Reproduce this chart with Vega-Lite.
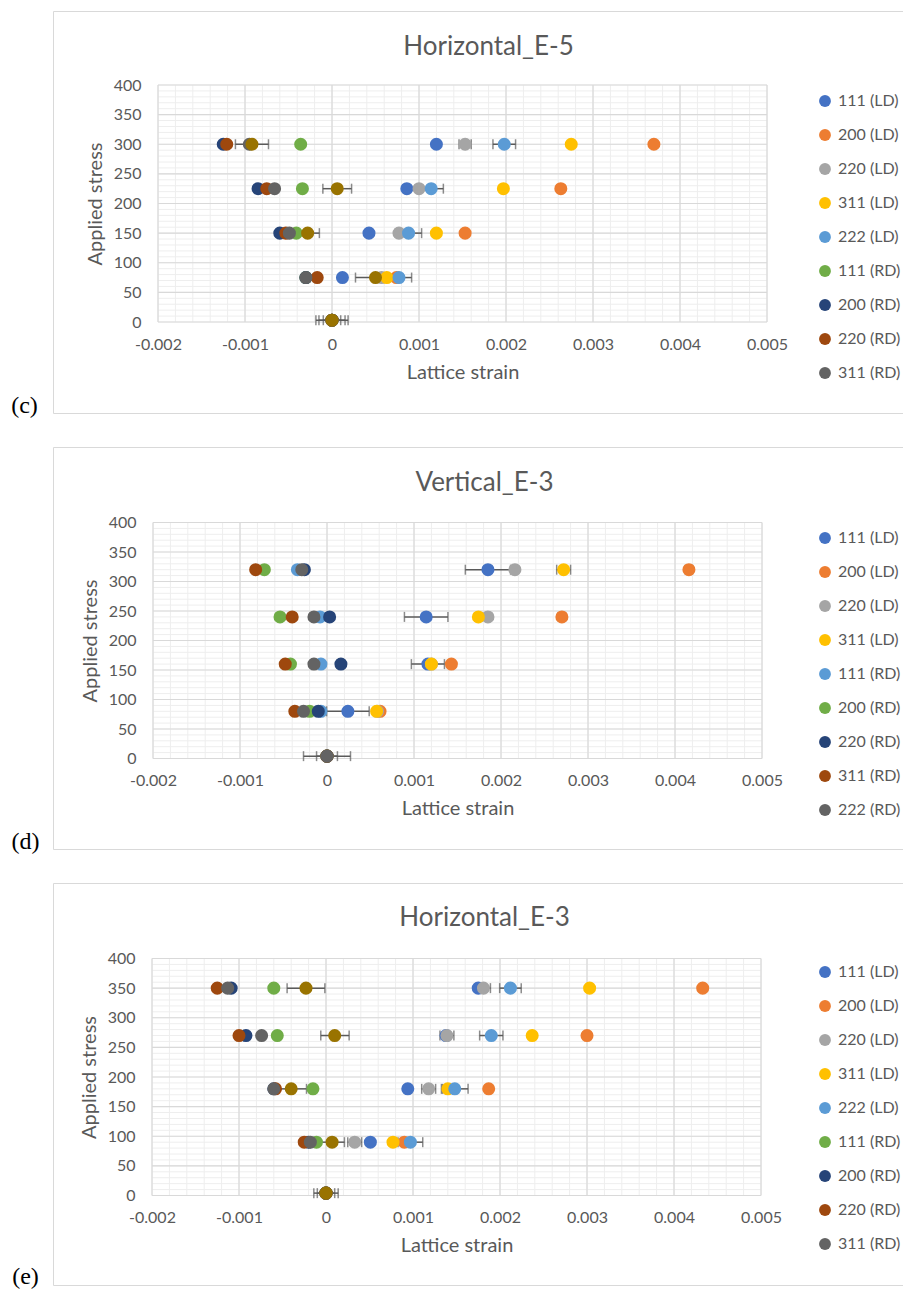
{
"$schema": "https://vega.github.io/schema/vega-lite/v6.json",
"padding": {"left": 10, "top": 10, "right": 0, "bottom": 0},
"background": "white",
"bounds": "flush",
"spacing": 34,
"config": {
  "font": "Lato",
  "view": {"stroke": "#D9D9D9", "strokeWidth": 1},
  "axis": {"labelFont": "Lato", "titleFont": "Lato", "labelColor": "#595959", "titleColor": "#595959", "titleFontWeight": "normal"},
  "legend": {"labelFont": "Lato"}
},
"resolve": {"scale": {"x": "independent", "y": "independent", "color": "independent"}},
"datasets": {
  "vminor": [{"v": -0.002},{"v": -0.0018},{"v": -0.0016},{"v": -0.0014},{"v": -0.0012},{"v": -0.001},{"v": -0.0008},{"v": -0.0006},{"v": -0.0004},{"v": -0.0002},{"v": 0},{"v": 0.0002},{"v": 0.0004},{"v": 0.0006},{"v": 0.0008},{"v": 0.001},{"v": 0.0012},{"v": 0.0014},{"v": 0.0016},{"v": 0.0018},{"v": 0.002},{"v": 0.0022},{"v": 0.0024},{"v": 0.0026},{"v": 0.0028},{"v": 0.003},{"v": 0.0032},{"v": 0.0034},{"v": 0.0036},{"v": 0.0038},{"v": 0.004},{"v": 0.0042},{"v": 0.0044},{"v": 0.0046},{"v": 0.0048},{"v": 0.005}],
  "vmajor": [{"v": -0.002},{"v": -0.001},{"v": 0},{"v": 0.001},{"v": 0.002},{"v": 0.003},{"v": 0.004},{"v": 0.005}],
  "hminor": [{"h": 0},{"h": 10},{"h": 20},{"h": 30},{"h": 40},{"h": 50},{"h": 60},{"h": 70},{"h": 80},{"h": 90},{"h": 100},{"h": 110},{"h": 120},{"h": 130},{"h": 140},{"h": 150},{"h": 160},{"h": 170},{"h": 180},{"h": 190},{"h": 200},{"h": 210},{"h": 220},{"h": 230},{"h": 240},{"h": 250},{"h": 260},{"h": 270},{"h": 280},{"h": 290},{"h": 300},{"h": 310},{"h": 320},{"h": 330},{"h": 340},{"h": 350},{"h": 360},{"h": 370},{"h": 380},{"h": 390},{"h": 400}],
  "hmajor": [{"h": 0},{"h": 50},{"h": 100},{"h": 150},{"h": 200},{"h": 250},{"h": 300},{"h": 350},{"h": 400}],
  "p1": [
    {"series": "111 (LD)", "stress": 3, "strain": 0},{"series": "111 (LD)", "stress": 75, "strain": 0.00012},{"series": "111 (LD)", "stress": 150, "strain": 0.000425},{"series": "111 (LD)", "stress": 225, "strain": 0.00086},{"series": "111 (LD)", "stress": 300, "strain": 0.0012},
    {"series": "200 (LD)", "stress": 3, "strain": 0},{"series": "200 (LD)", "stress": 75, "strain": 0.00074},{"series": "200 (LD)", "stress": 150, "strain": 0.00153},{"series": "200 (LD)", "stress": 225, "strain": 0.00263},{"series": "200 (LD)", "stress": 300, "strain": 0.0037},
    {"series": "220 (LD)", "stress": 3, "strain": 0},{"series": "220 (LD)", "stress": 75, "strain": 0.00057},{"series": "220 (LD)", "stress": 150, "strain": 0.00077},{"series": "220 (LD)", "stress": 225, "strain": 0.001},{"series": "220 (LD)", "stress": 300, "strain": 0.00153},
    {"series": "311 (LD)", "stress": 3, "strain": 0},{"series": "311 (LD)", "stress": 75, "strain": 0.00063},{"series": "311 (LD)", "stress": 150, "strain": 0.0012},{"series": "311 (LD)", "stress": 225, "strain": 0.00197},{"series": "311 (LD)", "stress": 300, "strain": 0.00275},
    {"series": "222 (LD)", "stress": 3, "strain": 0},{"series": "222 (LD)", "stress": 75, "strain": 0.00077},{"series": "222 (LD)", "stress": 150, "strain": 0.00088},{"series": "222 (LD)", "stress": 225, "strain": 0.00114},{"series": "222 (LD)", "stress": 300, "strain": 0.00198},
    {"series": "111 (RD)", "stress": 3, "strain": 0},{"series": "111 (RD)", "stress": 75, "strain": -0.0003},{"series": "111 (RD)", "stress": 150, "strain": -0.00041},{"series": "111 (RD)", "stress": 225, "strain": -0.00034},{"series": "111 (RD)", "stress": 300, "strain": -0.00036},
    {"series": "200 (RD)", "stress": 3, "strain": 0},{"series": "200 (RD)", "stress": 75, "strain": -0.0003},{"series": "200 (RD)", "stress": 150, "strain": -0.0006},{"series": "200 (RD)", "stress": 225, "strain": -0.00085},{"series": "200 (RD)", "stress": 300, "strain": -0.00125},
    {"series": "220 (RD)", "stress": 3, "strain": 0},{"series": "220 (RD)", "stress": 75, "strain": -0.00017},{"series": "220 (RD)", "stress": 150, "strain": -0.00053},{"series": "220 (RD)", "stress": 225, "strain": -0.00075},{"series": "220 (RD)", "stress": 300, "strain": -0.00121},
    {"series": "311 (RD)", "stress": 3, "strain": 0},{"series": "311 (RD)", "stress": 75, "strain": -0.0003},{"series": "311 (RD)", "stress": 150, "strain": -0.00049},{"series": "311 (RD)", "stress": 225, "strain": -0.00066},{"series": "311 (RD)", "stress": 300, "strain": -0.00095},
    {"series": "222 (RD)", "stress": 3, "strain": 0},{"series": "222 (RD)", "stress": 75, "strain": 0.0005},{"series": "222 (RD)", "stress": 150, "strain": -0.00028},{"series": "222 (RD)", "stress": 225, "strain": 0.00006},{"series": "222 (RD)", "stress": 300, "strain": -0.00092}
  ],
  "e1": [
    {"series": "220 (LD)", "stress": 3, "lo": -0.0001, "hi": 0.0001},{"series": "220 (LD)", "stress": 300, "lo": 0.00146, "hi": 0.0016},
    {"series": "222 (LD)", "stress": 3, "lo": -0.00015, "hi": 0.00015},{"series": "222 (LD)", "stress": 75, "lo": 0.000625, "hi": 0.000915},{"series": "222 (LD)", "stress": 150, "lo": 0.00073, "hi": 0.00103},{"series": "222 (LD)", "stress": 225, "lo": 0.001, "hi": 0.00128},{"series": "222 (LD)", "stress": 300, "lo": 0.00185, "hi": 0.00211},
    {"series": "222 (RD)", "stress": 3, "lo": -0.000185, "hi": 0.000185},{"series": "222 (RD)", "stress": 75, "lo": 0.00027, "hi": 0.00073},{"series": "222 (RD)", "stress": 150, "lo": -0.000415, "hi": -0.000145},{"series": "222 (RD)", "stress": 225, "lo": -0.000105, "hi": 0.000225},{"series": "222 (RD)", "stress": 300, "lo": -0.00111, "hi": -0.00073}
  ],
  "p2": [
    {"series": "111 (LD)", "stress": 4, "strain": 0},{"series": "111 (LD)", "stress": 80, "strain": 0.00024},{"series": "111 (LD)", "stress": 160, "strain": 0.00116},{"series": "111 (LD)", "stress": 240, "strain": 0.00114},{"series": "111 (LD)", "stress": 320, "strain": 0.00185},
    {"series": "200 (LD)", "stress": 4, "strain": 0},{"series": "200 (LD)", "stress": 80, "strain": 0.00061},{"series": "200 (LD)", "stress": 160, "strain": 0.00143},{"series": "200 (LD)", "stress": 240, "strain": 0.0027},{"series": "200 (LD)", "stress": 320, "strain": 0.00416},
    {"series": "220 (LD)", "stress": 4, "strain": 0},{"series": "220 (LD)", "stress": 80, "strain": 0.00058},{"series": "220 (LD)", "stress": 160, "strain": 0.0012},{"series": "220 (LD)", "stress": 240, "strain": 0.00185},{"series": "220 (LD)", "stress": 320, "strain": 0.00216},
    {"series": "311 (LD)", "stress": 4, "strain": 0},{"series": "311 (LD)", "stress": 80, "strain": 0.00057},{"series": "311 (LD)", "stress": 160, "strain": 0.0012},{"series": "311 (LD)", "stress": 240, "strain": 0.00174},{"series": "311 (LD)", "stress": 320, "strain": 0.00272},
    {"series": "111 (RD)", "stress": 4, "strain": 0},{"series": "111 (RD)", "stress": 80, "strain": -0.00007},{"series": "111 (RD)", "stress": 160, "strain": -0.00007},{"series": "111 (RD)", "stress": 240, "strain": -0.00008},{"series": "111 (RD)", "stress": 320, "strain": -0.00034},
    {"series": "200 (RD)", "stress": 4, "strain": 0},{"series": "200 (RD)", "stress": 80, "strain": -0.0002},{"series": "200 (RD)", "stress": 160, "strain": -0.00042},{"series": "200 (RD)", "stress": 240, "strain": -0.00054},{"series": "200 (RD)", "stress": 320, "strain": -0.00072},
    {"series": "220 (RD)", "stress": 4, "strain": 0},{"series": "220 (RD)", "stress": 80, "strain": -0.0001},{"series": "220 (RD)", "stress": 160, "strain": 0.00016},{"series": "220 (RD)", "stress": 240, "strain": 0.00003},{"series": "220 (RD)", "stress": 320, "strain": -0.00026},
    {"series": "311 (RD)", "stress": 4, "strain": 0},{"series": "311 (RD)", "stress": 80, "strain": -0.00037},{"series": "311 (RD)", "stress": 160, "strain": -0.00048},{"series": "311 (RD)", "stress": 240, "strain": -0.0004},{"series": "311 (RD)", "stress": 320, "strain": -0.00082},
    {"series": "222 (RD)", "stress": 4, "strain": 0},{"series": "222 (RD)", "stress": 80, "strain": -0.00027},{"series": "222 (RD)", "stress": 160, "strain": -0.00015},{"series": "222 (RD)", "stress": 240, "strain": -0.00015},{"series": "222 (RD)", "stress": 320, "strain": -0.00029}
  ],
  "e2": [
    {"series": "111 (LD)", "stress": 4, "lo": -0.00027, "hi": 0.00027},{"series": "111 (LD)", "stress": 80, "lo": -0.000005, "hi": 0.000485},{"series": "111 (LD)", "stress": 160, "lo": 0.00097, "hi": 0.00135},{"series": "111 (LD)", "stress": 240, "lo": 0.00089, "hi": 0.00139},{"series": "111 (LD)", "stress": 320, "lo": 0.00159, "hi": 0.00211},
    {"series": "200 (LD)", "stress": 80, "lo": 0.00058, "hi": 0.00064},{"series": "200 (LD)", "stress": 160, "lo": 0.0014, "hi": 0.00146},{"series": "200 (LD)", "stress": 240, "lo": 0.00266, "hi": 0.00274},{"series": "200 (LD)", "stress": 320, "lo": 0.00412, "hi": 0.0042},
    {"series": "311 (LD)", "stress": 160, "lo": 0.00116, "hi": 0.00124},{"series": "311 (LD)", "stress": 240, "lo": 0.0017, "hi": 0.00178},{"series": "311 (LD)", "stress": 320, "lo": 0.00264, "hi": 0.0028},
    {"series": "220 (RD)", "stress": 80, "lo": -0.00014, "hi": -0.00006},{"series": "220 (RD)", "stress": 160, "lo": 0.00012, "hi": 0.0002},{"series": "220 (RD)", "stress": 240, "lo": -0.00001, "hi": 0.00007},{"series": "220 (RD)", "stress": 320, "lo": -0.0003, "hi": -0.00022},
    {"series": "222 (RD)", "stress": 4, "lo": -0.00012, "hi": 0.00012}
  ],
  "p3": [
    {"series": "111 (LD)", "stress": 4, "strain": 0},{"series": "111 (LD)", "stress": 90, "strain": 0.00051},{"series": "111 (LD)", "stress": 180, "strain": 0.00094},{"series": "111 (LD)", "stress": 270, "strain": 0.00138},{"series": "111 (LD)", "stress": 350, "strain": 0.00175},
    {"series": "200 (LD)", "stress": 4, "strain": 0},{"series": "200 (LD)", "stress": 90, "strain": 0.0009},{"series": "200 (LD)", "stress": 180, "strain": 0.00187},{"series": "200 (LD)", "stress": 270, "strain": 0.003},{"series": "200 (LD)", "stress": 350, "strain": 0.00433},
    {"series": "220 (LD)", "stress": 4, "strain": 0},{"series": "220 (LD)", "stress": 90, "strain": 0.00033},{"series": "220 (LD)", "stress": 180, "strain": 0.00118},{"series": "220 (LD)", "stress": 270, "strain": 0.00139},{"series": "220 (LD)", "stress": 350, "strain": 0.00181},
    {"series": "311 (LD)", "stress": 4, "strain": 0},{"series": "311 (LD)", "stress": 90, "strain": 0.00077},{"series": "311 (LD)", "stress": 180, "strain": 0.0014},{"series": "311 (LD)", "stress": 270, "strain": 0.00237},{"series": "311 (LD)", "stress": 350, "strain": 0.00303},
    {"series": "222 (LD)", "stress": 4, "strain": 0},{"series": "222 (LD)", "stress": 90, "strain": 0.00097},{"series": "222 (LD)", "stress": 180, "strain": 0.00148},{"series": "222 (LD)", "stress": 270, "strain": 0.0019},{"series": "222 (LD)", "stress": 350, "strain": 0.00212},
    {"series": "111 (RD)", "stress": 4, "strain": 0},{"series": "111 (RD)", "stress": 90, "strain": -0.00011},{"series": "111 (RD)", "stress": 180, "strain": -0.00015},{"series": "111 (RD)", "stress": 270, "strain": -0.00056},{"series": "111 (RD)", "stress": 350, "strain": -0.0006},
    {"series": "200 (RD)", "stress": 4, "strain": 0},{"series": "200 (RD)", "stress": 90, "strain": -0.0002},{"series": "200 (RD)", "stress": 180, "strain": -0.0006},{"series": "200 (RD)", "stress": 270, "strain": -0.00092},{"series": "200 (RD)", "stress": 350, "strain": -0.00109},
    {"series": "220 (RD)", "stress": 4, "strain": 0},{"series": "220 (RD)", "stress": 90, "strain": -0.00025},{"series": "220 (RD)", "stress": 180, "strain": -0.00058},{"series": "220 (RD)", "stress": 270, "strain": -0.001},{"series": "220 (RD)", "stress": 350, "strain": -0.00125},
    {"series": "311 (RD)", "stress": 4, "strain": 0},{"series": "311 (RD)", "stress": 90, "strain": -0.00018},{"series": "311 (RD)", "stress": 180, "strain": -0.0006},{"series": "311 (RD)", "stress": 270, "strain": -0.00074},{"series": "311 (RD)", "stress": 350, "strain": -0.00113},
    {"series": "222 (RD)", "stress": 4, "strain": 0},{"series": "222 (RD)", "stress": 90, "strain": 0.00007},{"series": "222 (RD)", "stress": 180, "strain": -0.0004},{"series": "222 (RD)", "stress": 270, "strain": 0.0001},{"series": "222 (RD)", "stress": 350, "strain": -0.00023}
  ],
  "e3": [
    {"series": "220 (LD)", "stress": 90, "lo": 0.00025, "hi": 0.00041},{"series": "220 (LD)", "stress": 180, "lo": 0.0011, "hi": 0.00126},{"series": "220 (LD)", "stress": 270, "lo": 0.00131, "hi": 0.00147},{"series": "220 (LD)", "stress": 350, "lo": 0.00173, "hi": 0.00189},
    {"series": "311 (LD)", "stress": 180, "lo": 0.00134, "hi": 0.00146},
    {"series": "222 (LD)", "stress": 4, "lo": -0.0001, "hi": 0.0001},{"series": "222 (LD)", "stress": 90, "lo": 0.000828, "hi": 0.001112},{"series": "222 (LD)", "stress": 180, "lo": 0.001327, "hi": 0.001633},{"series": "222 (LD)", "stress": 270, "lo": 0.001766, "hi": 0.002034},{"series": "222 (LD)", "stress": 350, "lo": 0.001996, "hi": 0.002244},
    {"series": "222 (RD)", "stress": 4, "lo": -0.00014, "hi": 0.00014},{"series": "222 (RD)", "stress": 90, "lo": -0.000075, "hi": 0.000212},{"series": "222 (RD)", "stress": 180, "lo": -0.000576, "hi": -0.000224},{"series": "222 (RD)", "stress": 270, "lo": -0.00006, "hi": 0.000266},{"series": "222 (RD)", "stress": 350, "lo": -0.000447, "hi": -0.000013}
  ]
},
"vconcat": [
{
  "width": 850, "height": 402,
  "resolve": {"axis": {"x": "independent", "y": "independent"}},
  "layer": [
    {"data": {"name": "vminor"}, "mark": {"type": "rule", "color": "#EEEEEE", "strokeWidth": 1},
     "encoding": {
       "x": {"field": "v", "type": "quantitative", "scale": {"domain": [-0.002, 0.005], "range": [105, 714], "nice": false, "zero": false},
             "axis": {"orient": "top", "offset": 0, "labels": false, "ticks": false, "domain": false, "grid": false, "title": "Horizontal_E-5", "titleX": 435, "titleY": 35, "titleAlign": "center", "titleBaseline": "middle", "titleAngle": 0, "titleFontSize": 26, "titleColor": "#595959", "titleFontWeight": "normal"}},
       "y": {"datum": 0, "type": "quantitative", "scale": {"domain": [0, 400], "range": [311, 74], "nice": false, "zero": false}, "axis": null},
       "y2": {"datum": 400}}},
    {"data": {"name": "hminor"}, "mark": {"type": "rule", "color": "#EEEEEE", "strokeWidth": 1},
     "encoding": {
       "y": {"field": "h", "type": "quantitative", "scale": {"domain": [0, 400], "range": [311, 74], "nice": false, "zero": false},
             "axis": {"orient": "left", "offset": 0, "labels": false, "ticks": false, "domain": false, "grid": false, "title": "(c)", "titleX": -29, "titleY": 394, "titleAngle": 0, "titleAlign": "center", "titleBaseline": "middle", "titleFont": "Liberation Serif", "titleFontSize": 24, "titleColor": "#000000", "titleFontWeight": "normal"}},
       "x": {"datum": -0.002, "type": "quantitative", "scale": {"domain": [-0.002, 0.005], "range": [105, 714], "nice": false, "zero": false}, "axis": null},
       "x2": {"datum": 0.005}}},
    {"data": {"name": "vmajor"}, "mark": {"type": "rule", "color": "#D9D9D9", "strokeWidth": 1.2},
     "encoding": {
       "x": {"field": "v", "type": "quantitative", "scale": {"domain": [-0.002, 0.005], "range": [105, 714], "nice": false, "zero": false}, "axis": null},
       "y": {"datum": 0, "type": "quantitative", "scale": {"domain": [0, 400], "range": [311, 74], "nice": false, "zero": false}, "axis": null},
       "y2": {"datum": 400}}},
    {"data": {"name": "hmajor"}, "mark": {"type": "rule", "color": "#D9D9D9", "strokeWidth": 1.2},
     "encoding": {
       "y": {"field": "h", "type": "quantitative", "scale": {"domain": [0, 400], "range": [311, 74], "nice": false, "zero": false}, "axis": null},
       "x": {"datum": -0.002, "type": "quantitative", "scale": {"domain": [-0.002, 0.005], "range": [105, 714], "nice": false, "zero": false}, "axis": null},
       "x2": {"datum": 0.005}}},
    {"data": {"name": "e1"}, "mark": {"type": "errorbar", "color": "#5A5A5A", "thickness": 1.5, "ticks": {"size": 10, "thickness": 1.5, "color": "#5A5A5A"}},
     "encoding": {
       "x": {"field": "lo", "type": "quantitative", "scale": {"domain": [-0.002, 0.005], "range": [105, 714], "nice": false, "zero": false}, "axis": null},
       "x2": {"field": "hi"},
       "y": {"field": "stress", "type": "quantitative", "scale": {"domain": [0, 400], "range": [311, 74], "nice": false, "zero": false}, "axis": null}}},
    {"data": {"name": "p1"}, "mark": {"type": "point", "filled": true, "size": 170, "opacity": 1, "shape": "circle"},
     "encoding": {
       "x": {"field": "strain", "type": "quantitative", "scale": {"domain": [-0.002, 0.005], "range": [105, 714], "nice": false, "zero": false},
             "axis": {"orient": "bottom", "offset": -91, "values": [-0.002, -0.001, 0, 0.001, 0.002, 0.003, 0.004, 0.005], "labelExpr": "toString(datum.value)", "labelFlush": false, "labelOverlap": false, "labelPadding": 14, "labelFontSize": 16, "ticks": false, "domain": false, "grid": false, "title": "Lattice strain", "titleFontSize": 20, "titlePadding": 10}},
       "y": {"field": "stress", "type": "quantitative", "scale": {"domain": [0, 400], "range": [311, 74], "nice": false, "zero": false},
             "axis": {"orient": "left", "offset": -105, "values": [0, 50, 100, 150, 200, 250, 300, 350, 400], "labelPadding": 17, "labelFontSize": 16, "ticks": false, "domain": false, "grid": false, "title": "Applied stress", "titleFontSize": 20, "titlePadding": 8}},
       "color": {"field": "series", "type": "nominal",
             "scale": {"domain": ["111 (LD)","200 (LD)","220 (LD)","311 (LD)","222 (LD)","111 (RD)","200 (RD)","220 (RD)","311 (RD)","222 (RD)"], "range": ["#4472C4","#ED7D31","#A5A5A5","#FFC000","#5B9BD5","#70AD47","#264478","#9E480E","#636363","#997300"]},
             "legend": {"orient": "none", "legendX": 764, "legendY": 82, "title": null, "values": ["111 (LD)","200 (LD)","220 (LD)","311 (LD)","222 (LD)","111 (RD)","200 (RD)","220 (RD)","311 (RD)"], "symbolType": "circle", "symbolSize": 140, "symbolStrokeWidth": 0, "labelFontSize": 16, "labelColor": "#595959", "rowPadding": 18, "labelOffset": 5, "padding": 0}}}}
  ]
},
{
  "width": 850, "height": 402,
  "resolve": {"axis": {"x": "independent", "y": "independent"}},
  "layer": [
    {"data": {"name": "vminor"}, "mark": {"type": "rule", "color": "#EEEEEE", "strokeWidth": 1},
     "encoding": {
       "x": {"field": "v", "type": "quantitative", "scale": {"domain": [-0.002, 0.005], "range": [100, 709], "nice": false, "zero": false},
             "axis": {"orient": "top", "offset": 0, "labels": false, "ticks": false, "domain": false, "grid": false, "title": "Vertical_E-3", "titleX": 431, "titleY": 35, "titleAlign": "center", "titleBaseline": "middle", "titleAngle": 0, "titleFontSize": 26, "titleColor": "#595959", "titleFontWeight": "normal"}},
       "y": {"datum": 0, "type": "quantitative", "scale": {"domain": [0, 400], "range": [311.5, 75.5], "nice": false, "zero": false}, "axis": null},
       "y2": {"datum": 400}}},
    {"data": {"name": "hminor"}, "mark": {"type": "rule", "color": "#EEEEEE", "strokeWidth": 1},
     "encoding": {
       "y": {"field": "h", "type": "quantitative", "scale": {"domain": [0, 400], "range": [311.5, 75.5], "nice": false, "zero": false},
             "axis": {"orient": "left", "offset": 0, "labels": false, "ticks": false, "domain": false, "grid": false, "title": "(d)", "titleX": -28, "titleY": 394, "titleAngle": 0, "titleAlign": "center", "titleBaseline": "middle", "titleFont": "Liberation Serif", "titleFontSize": 24, "titleColor": "#000000", "titleFontWeight": "normal"}},
       "x": {"datum": -0.002, "type": "quantitative", "scale": {"domain": [-0.002, 0.005], "range": [100, 709], "nice": false, "zero": false}, "axis": null},
       "x2": {"datum": 0.005}}},
    {"data": {"name": "vmajor"}, "mark": {"type": "rule", "color": "#D9D9D9", "strokeWidth": 1.2},
     "encoding": {
       "x": {"field": "v", "type": "quantitative", "scale": {"domain": [-0.002, 0.005], "range": [100, 709], "nice": false, "zero": false}, "axis": null},
       "y": {"datum": 0, "type": "quantitative", "scale": {"domain": [0, 400], "range": [311.5, 75.5], "nice": false, "zero": false}, "axis": null},
       "y2": {"datum": 400}}},
    {"data": {"name": "hmajor"}, "mark": {"type": "rule", "color": "#D9D9D9", "strokeWidth": 1.2},
     "encoding": {
       "y": {"field": "h", "type": "quantitative", "scale": {"domain": [0, 400], "range": [311.5, 75.5], "nice": false, "zero": false}, "axis": null},
       "x": {"datum": -0.002, "type": "quantitative", "scale": {"domain": [-0.002, 0.005], "range": [100, 709], "nice": false, "zero": false}, "axis": null},
       "x2": {"datum": 0.005}}},
    {"data": {"name": "e2"}, "mark": {"type": "errorbar", "color": "#5A5A5A", "thickness": 1.5, "ticks": {"size": 10, "thickness": 1.5, "color": "#5A5A5A"}},
     "encoding": {
       "x": {"field": "lo", "type": "quantitative", "scale": {"domain": [-0.002, 0.005], "range": [100, 709], "nice": false, "zero": false}, "axis": null},
       "x2": {"field": "hi"},
       "y": {"field": "stress", "type": "quantitative", "scale": {"domain": [0, 400], "range": [311.5, 75.5], "nice": false, "zero": false}, "axis": null}}},
    {"data": {"name": "p2"}, "mark": {"type": "point", "filled": true, "size": 170, "opacity": 1, "shape": "circle"},
     "encoding": {
       "x": {"field": "strain", "type": "quantitative", "scale": {"domain": [-0.002, 0.005], "range": [100, 709], "nice": false, "zero": false},
             "axis": {"orient": "bottom", "offset": -90.5, "values": [-0.002, -0.001, 0, 0.001, 0.002, 0.003, 0.004, 0.005], "labelExpr": "toString(datum.value)", "labelFlush": false, "labelOverlap": false, "labelPadding": 14, "labelFontSize": 16, "ticks": false, "domain": false, "grid": false, "title": "Lattice strain", "titleFontSize": 20, "titlePadding": 10}},
       "y": {"field": "stress", "type": "quantitative", "scale": {"domain": [0, 400], "range": [311.5, 75.5], "nice": false, "zero": false},
             "axis": {"orient": "left", "offset": -100, "values": [0, 50, 100, 150, 200, 250, 300, 350, 400], "labelPadding": 17, "labelFontSize": 16, "ticks": false, "domain": false, "grid": false, "title": "Applied stress", "titleFontSize": 20, "titlePadding": 8}},
       "color": {"field": "series", "type": "nominal",
             "scale": {"domain": ["111 (LD)","200 (LD)","220 (LD)","311 (LD)","111 (RD)","200 (RD)","220 (RD)","311 (RD)","222 (RD)"], "range": ["#4472C4","#ED7D31","#A5A5A5","#FFC000","#5B9BD5","#70AD47","#264478","#9E480E","#636363"]},
             "legend": {"orient": "none", "legendX": 764, "legendY": 83, "title": null, "symbolType": "circle", "symbolSize": 140, "symbolStrokeWidth": 0, "labelFontSize": 16, "labelColor": "#595959", "rowPadding": 18, "labelOffset": 5, "padding": 0}}}}
  ]
},
{
  "width": 850, "height": 402,
  "resolve": {"axis": {"x": "independent", "y": "independent"}},
  "layer": [
    {"data": {"name": "vminor"}, "mark": {"type": "rule", "color": "#EEEEEE", "strokeWidth": 1},
     "encoding": {
       "x": {"field": "v", "type": "quantitative", "scale": {"domain": [-0.002, 0.005], "range": [99, 708], "nice": false, "zero": false},
             "axis": {"orient": "top", "offset": 0, "labels": false, "ticks": false, "domain": false, "grid": false, "title": "Horizontal_E-3", "titleX": 431, "titleY": 34, "titleAlign": "center", "titleBaseline": "middle", "titleAngle": 0, "titleFontSize": 26, "titleColor": "#595959", "titleFontWeight": "normal"}},
       "y": {"datum": 0, "type": "quantitative", "scale": {"domain": [0, 400], "range": [312.5, 75.5], "nice": false, "zero": false}, "axis": null},
       "y2": {"datum": 400}}},
    {"data": {"name": "hminor"}, "mark": {"type": "rule", "color": "#EEEEEE", "strokeWidth": 1},
     "encoding": {
       "y": {"field": "h", "type": "quantitative", "scale": {"domain": [0, 400], "range": [312.5, 75.5], "nice": false, "zero": false},
             "axis": {"orient": "left", "offset": 0, "labels": false, "ticks": false, "domain": false, "grid": false, "title": "(e)", "titleX": -28, "titleY": 393, "titleAngle": 0, "titleAlign": "center", "titleBaseline": "middle", "titleFont": "Liberation Serif", "titleFontSize": 24, "titleColor": "#000000", "titleFontWeight": "normal"}},
       "x": {"datum": -0.002, "type": "quantitative", "scale": {"domain": [-0.002, 0.005], "range": [99, 708], "nice": false, "zero": false}, "axis": null},
       "x2": {"datum": 0.005}}},
    {"data": {"name": "vmajor"}, "mark": {"type": "rule", "color": "#D9D9D9", "strokeWidth": 1.2},
     "encoding": {
       "x": {"field": "v", "type": "quantitative", "scale": {"domain": [-0.002, 0.005], "range": [99, 708], "nice": false, "zero": false}, "axis": null},
       "y": {"datum": 0, "type": "quantitative", "scale": {"domain": [0, 400], "range": [312.5, 75.5], "nice": false, "zero": false}, "axis": null},
       "y2": {"datum": 400}}},
    {"data": {"name": "hmajor"}, "mark": {"type": "rule", "color": "#D9D9D9", "strokeWidth": 1.2},
     "encoding": {
       "y": {"field": "h", "type": "quantitative", "scale": {"domain": [0, 400], "range": [312.5, 75.5], "nice": false, "zero": false}, "axis": null},
       "x": {"datum": -0.002, "type": "quantitative", "scale": {"domain": [-0.002, 0.005], "range": [99, 708], "nice": false, "zero": false}, "axis": null},
       "x2": {"datum": 0.005}}},
    {"data": {"name": "e3"}, "mark": {"type": "errorbar", "color": "#5A5A5A", "thickness": 1.5, "ticks": {"size": 10, "thickness": 1.5, "color": "#5A5A5A"}},
     "encoding": {
       "x": {"field": "lo", "type": "quantitative", "scale": {"domain": [-0.002, 0.005], "range": [99, 708], "nice": false, "zero": false}, "axis": null},
       "x2": {"field": "hi"},
       "y": {"field": "stress", "type": "quantitative", "scale": {"domain": [0, 400], "range": [312.5, 75.5], "nice": false, "zero": false}, "axis": null}}},
    {"data": {"name": "p3"}, "mark": {"type": "point", "filled": true, "size": 170, "opacity": 1, "shape": "circle"},
     "encoding": {
       "x": {"field": "strain", "type": "quantitative", "scale": {"domain": [-0.002, 0.005], "range": [99, 708], "nice": false, "zero": false},
             "axis": {"orient": "bottom", "offset": -89.5, "values": [-0.002, -0.001, 0, 0.001, 0.002, 0.003, 0.004, 0.005], "labelExpr": "toString(datum.value)", "labelFlush": false, "labelOverlap": false, "labelPadding": 14, "labelFontSize": 16, "ticks": false, "domain": false, "grid": false, "title": "Lattice strain", "titleFontSize": 20, "titlePadding": 10}},
       "y": {"field": "stress", "type": "quantitative", "scale": {"domain": [0, 400], "range": [312.5, 75.5], "nice": false, "zero": false},
             "axis": {"orient": "left", "offset": -99, "values": [0, 50, 100, 150, 200, 250, 300, 350, 400], "labelPadding": 17, "labelFontSize": 16, "ticks": false, "domain": false, "grid": false, "title": "Applied stress", "titleFontSize": 20, "titlePadding": 8}},
       "color": {"field": "series", "type": "nominal",
             "scale": {"domain": ["111 (LD)","200 (LD)","220 (LD)","311 (LD)","222 (LD)","111 (RD)","200 (RD)","220 (RD)","311 (RD)","222 (RD)"], "range": ["#4472C4","#ED7D31","#A5A5A5","#FFC000","#5B9BD5","#70AD47","#264478","#9E480E","#636363","#997300"]},
             "legend": {"orient": "none", "legendX": 764, "legendY": 81, "title": null, "values": ["111 (LD)","200 (LD)","220 (LD)","311 (LD)","222 (LD)","111 (RD)","200 (RD)","220 (RD)","311 (RD)"], "symbolType": "circle", "symbolSize": 140, "symbolStrokeWidth": 0, "labelFontSize": 16, "labelColor": "#595959", "rowPadding": 18, "labelOffset": 5, "padding": 0}}}}
  ]
}
]
}
